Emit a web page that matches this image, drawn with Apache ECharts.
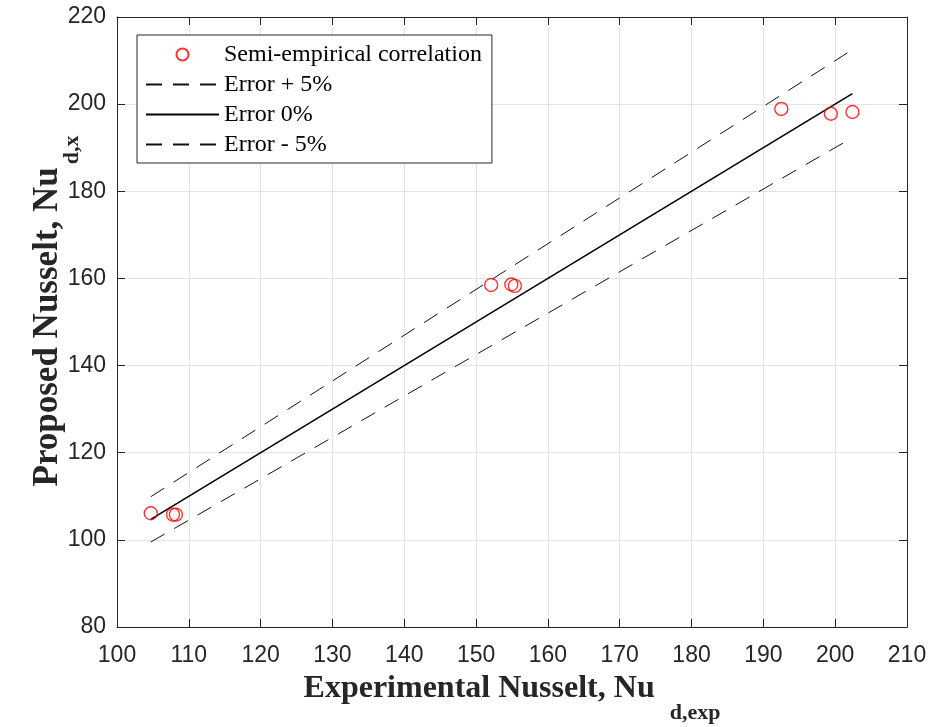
<!DOCTYPE html>
<html>
<head>
<meta charset="utf-8">
<script src="https://cdn.jsdelivr.net/npm/echarts@6/dist/echarts.min.js"></script>
<style>html,body{margin:0;padding:0;background:#fff}#c{width:932px;height:727px}</style>
</head>
<body>
<div id="c"></div>
<script>
// Data
const expNu = [104.7, 107.8, 108.2, 152.1, 154.9, 155.4, 192.5, 199.4, 202.4];
const propNu = [106.1, 105.8, 105.8, 158.5, 158.6, 158.3, 198.9, 197.8, 198.2];
const lineX = [104.7, 202.4];
const plus5Y = [109.9, 212.5];
const zeroY = [104.7, 202.4];
const minus5Y = [99.5, 192.3];
const xTicks = [100, 110, 120, 130, 140, 150, 160, 170, 180, 190, 200, 210];
const yTicks = [80, 100, 120, 140, 160, 180, 200, 220];
const seriesNames = ['Semi-empirical correlation', 'Error + 5%', 'Error 0%', 'Error - 5%'];

const pair = (xs, ys) => xs.map((x, i) => [x, ys[i]]);
const serif = '"Liberation Serif","Times New Roman",serif';
const sans = '"Liberation Sans",Arial,sans-serif';
const axisCol = '#262626';

const chart = echarts.init(document.getElementById('c'), null, {renderer: 'canvas'});
const baseAxis = {
  axisLine: {show: true, onZero: false, lineStyle: {color: axisCol, width: 1}},
  axisTick: {show: true, inside: true, length: 8, lineStyle: {color: axisCol, width: 1}},
  splitLine: {show: false},
  axisLabel: {show: false}
};
const xTitleRich = {
  a: {fontSize: 32, fontWeight: 'bold', fontFamily: serif, color: axisCol, lineHeight: 36, verticalAlign: 'top'},
  b: {fontSize: 22, fontWeight: 'bold', fontFamily: serif, color: axisCol, lineHeight: 24, padding: [29, 0, 0, 15], verticalAlign: 'top'}
};
const yTitleRich = {
  a: {fontSize: 35, fontWeight: 'bold', fontFamily: serif, color: axisCol, lineHeight: 39, verticalAlign: 'top', padding: [0, 0, 0, 22]},
  b: {fontSize: 22, fontWeight: 'bold', fontFamily: serif, color: axisCol, lineHeight: 24, padding: [31, 0, 0, 3], verticalAlign: 'top'}
};
chart.setOption({
  animation: false,
  backgroundColor: '#fff',
  grid: {left: 117, right: 25, top: 17, bottom: 100, containLabel: false, outerBoundsMode: 'none'},
  xAxis: [
    {
      type: 'value', min: xTicks[0], max: xTicks[xTicks.length - 1], interval: 10, position: 'bottom',
      axisLine: {show: true, onZero: false, lineStyle: {color: axisCol, width: 1}},
      axisTick: {show: true, inside: true, length: 8, lineStyle: {color: axisCol}},
      splitLine: {show: true, lineStyle: {color: '#e3e3e3', width: 1}},
      axisLabel: {color: axisCol, fontSize: 23, fontFamily: sans, margin: 17},
      name: '{a|Experimental Nusselt, Nu}{b|d,exp}',
      nameLocation: 'middle', nameGap: 46,
      nameTextStyle: {rich: xTitleRich}
    },
    Object.assign({}, baseAxis, {type: 'value', min: xTicks[0], max: xTicks[xTicks.length - 1], interval: 10, position: 'top'})
  ],
  yAxis: [
    {
      type: 'value', min: yTicks[0], max: yTicks[yTicks.length - 1], interval: 20, position: 'left',
      axisLine: {show: true, onZero: false, lineStyle: {color: axisCol, width: 1}},
      axisTick: {show: true, inside: true, length: 8, lineStyle: {color: axisCol}},
      splitLine: {show: true, lineStyle: {color: '#e3e3e3', width: 1}},
      axisLabel: {color: axisCol, fontSize: 23, fontFamily: sans, margin: 11},
      name: '{a|Proposed Nusselt, Nu}{b|d,x}',
      nameLocation: 'middle', nameGap: 48, nameRotate: 90, nameMoveOverlap: false,
      nameTextStyle: {rich: yTitleRich}
    },
    Object.assign({}, baseAxis, {type: 'value', min: yTicks[0], max: yTicks[yTicks.length - 1], interval: 20, position: 'right'})
  ],
  legend: {
    orient: 'vertical', left: 137, top: 35,
    padding: [7, 10, 6, 8], itemGap: 5, itemWidth: 73, itemHeight: 12,
    borderColor: axisCol, borderWidth: 1, backgroundColor: '#fff',
    textStyle: {fontSize: 24, fontFamily: serif, color: '#000', lineHeight: 25},
    data: seriesNames
  },
  series: [
    {
      name: seriesNames[1], type: 'line', data: pair(lineX, plus5Y), symbol: 'none', z: 2,
      itemStyle: {color: 'rgba(0,0,0,0)'},
      lineStyle: {color: '#111', width: 1, type: [16, 11]}
    },
    {
      name: seriesNames[2], type: 'line', data: pair(lineX, zeroY), symbol: 'none', z: 2,
      itemStyle: {color: 'rgba(0,0,0,0)'},
      lineStyle: {color: '#000', width: 1.6, type: 'solid'}
    },
    {
      name: seriesNames[3], type: 'line', data: pair(lineX, minus5Y), symbol: 'none', z: 2,
      itemStyle: {color: 'rgba(0,0,0,0)'},
      lineStyle: {color: '#111', width: 1, type: [16, 11]}
    },
    {
      name: seriesNames[0], type: 'scatter', data: pair(expNu, propNu), z: 3,
      symbol: 'circle', symbolSize: 13,
      itemStyle: {color: 'rgba(255,255,255,0)', borderColor: '#ff0000', borderWidth: 1.4}
    }
  ]
});
</script>
</body>
</html>
